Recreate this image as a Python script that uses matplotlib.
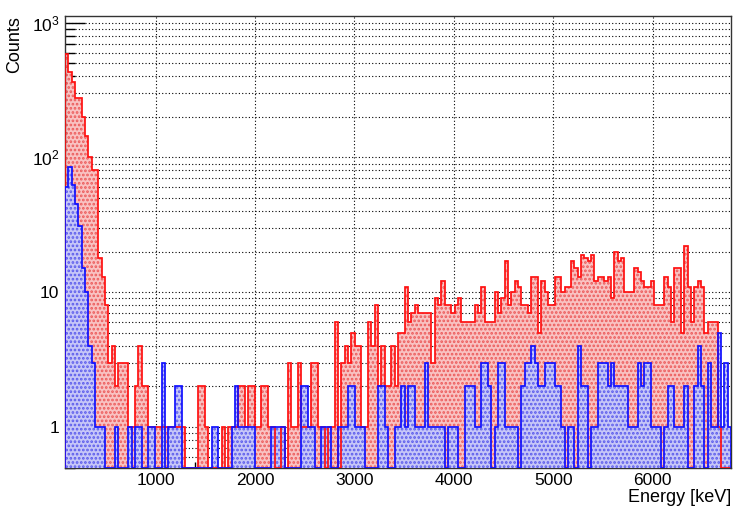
import numpy as np
import matplotlib
matplotlib.use("Agg")
import matplotlib.pyplot as plt
from matplotlib.ticker import FixedLocator, LogLocator, MultipleLocator, NullFormatter

# Energy spectrum, 200 bins of 33.5 keV starting at 88 keV
e_min = 88.0
bin_width = 33.5

red_counts = [
    590, 430, 360, 275, 275, 200, 145, 100, 80, 80, 18, 13, 8,
    3, 4, 2, 3, 3, 3, 1, 1, 2, 4,
    2, 2, 1, 1, 1, 1, 1, 1, 1, 1, 1, 1, 1,
    0, 0, 0, 0,
    2, 2, 1, 0, 0, 0, 0, 1, 0, 1, 1, 1, 2, 2, 1, 2,
    2, 1, 1, 2, 2, 1, 1, 0, 0, 1, 0,
    3, 1, 1, 3, 1, 1, 1, 3, 3, 1, 1, 0, 1, 1,
    6, 0, 3, 4, 3, 5, 4, 4, 1, 1, 6, 4, 8, 2, 4, 2, 2, 4, 2, 5,
    5, 11, 6, 7, 8, 7, 7, 7, 7, 3, 9, 8, 12, 8, 8, 7, 8, 9, 6, 6,
    6, 6, 8, 7,
    11, 6, 6, 6, 10, 7, 9, 17, 8, 10, 12, 11, 8, 8, 7, 13, 13, 5,
    12, 10, 8, 8, 13, 13, 10, 11, 11, 17, 15, 13, 19, 18, 17, 19, 12, 13, 13, 12,
    13, 9, 20, 17, 18, 10, 10,
    10, 15, 14, 12, 11, 11, 12, 8, 8, 8, 13, 11, 6, 15, 15, 5, 22, 11, 6, 11,
    12, 11, 5, 6, 6, 6, 1, 0, 0, 0,
]

blue_counts = [
    60, 85, 62, 45, 31, 15, 10, 4, 3, 1, 1, 1, 0, 0, 0, 1, 0, 0, 0, 1, 0, 1, 1,
    0, 0, 1, 1, 0, 0, 3, 0, 1, 1, 2, 2, 0, 0, 0, 0, 0, 0, 0, 0, 0, 1, 1, 0, 0, 0,
    0, 1, 2, 1, 1, 1, 1,
    1, 0, 0, 0, 0, 0, 1, 1, 1, 1, 0, 0, 0, 0, 0, 2, 2, 1, 1, 0,
    0, 1, 1, 1, 0, 0, 1, 1, 1, 2, 2, 1, 1, 1, 0, 0, 0, 0, 2, 2,
    1, 0, 0, 1, 1, 2, 1, 2, 2, 1, 1, 1, 3, 1, 1, 1, 1, 1, 0, 1,
    1, 1, 0, 0, 2, 2, 2, 1, 1,
    3, 3, 2, 0, 1, 3, 3, 1, 1, 1, 1, 0, 2, 3, 3, 4, 3,
    2, 2, 3, 3, 3, 2, 2, 1, 0, 1, 1, 0, 4, 2, 2, 0, 1, 1, 3, 3,
    3, 2, 3, 2, 2, 2, 2, 1,
    1, 1, 3, 2, 3, 3, 1, 1, 1, 0, 1, 2, 2, 1, 1, 1, 2, 0, 0, 2,
    4, 2, 0, 3, 1, 1, 5, 1, 3, 1,
]

y_min, y_max = 0.5, 1120.0
edges = e_min + bin_width * np.arange(len(red_counts) + 1)

plt.rcParams['font.family'] = ['Liberation Sans', 'DejaVu Sans']
plt.rcParams['mathtext.fontset'] = 'custom'
plt.rcParams['mathtext.rm'] = 'Liberation Sans'
plt.rcParams['mathtext.it'] = 'Liberation Sans'
plt.rcParams['hatch.linewidth'] = 1.3

fig = plt.figure(figsize=(7.33, 5.08), dpi=100)
ax = fig.add_axes([65 / 733, 40.5 / 508, 666 / 733, 451.5 / 508])
ax.set_yscale('log')

# empty bins sit on the bottom of the frame
red = np.clip(np.array(red_counts, dtype=float), y_min, None)
blue = np.clip(np.array(blue_counts, dtype=float), y_min, None)

ax.stairs(red, edges, baseline=y_min, fill=True, facecolor='#f9c2c2',
          edgecolor='#ec5a5a', linewidth=0, hatch='....', zorder=2)
ax.stairs(blue, edges, baseline=y_min, fill=True, facecolor='#c6c6f8',
          edgecolor='#5a5aec', linewidth=0, hatch='....', zorder=3)
ax.stairs(red, edges, baseline=y_min, color='#ff1010', linewidth=1.25, zorder=4)
ax.stairs(blue, edges, baseline=y_min, color='#1010ff', linewidth=1.25, zorder=5)

ax.set_xlim(edges[0], edges[-1])
ax.set_ylim(y_min, y_max)

ax.xaxis.set_major_locator(MultipleLocator(1000))
ax.xaxis.set_minor_locator(MultipleLocator(200))
ax.yaxis.set_major_locator(FixedLocator([1, 10, 100, 1000]))
ax.set_yticklabels(['1', '10', '$10^{2}$', '$10^{3}$'])
ax.yaxis.set_minor_locator(LogLocator(base=10, subs=np.arange(2, 10)))
ax.yaxis.set_minor_formatter(NullFormatter())

ax.tick_params(axis='both', which='both', direction='in', labelsize=12.5,
               colors='black', width=1.0, zorder=6)
ax.tick_params(axis='y', which='major', length=14.5, pad=4)
ax.tick_params(axis='y', which='minor', length=7)
ax.tick_params(axis='x', which='major', length=9, pad=4)
ax.tick_params(axis='x', which='minor', length=4.5)

grid_style = dict(color='black', linestyle=(0, (1, 2)), linewidth=0.8)
ax.grid(True, axis='x', which='major', **grid_style)
ax.grid(True, axis='y', which='both', **grid_style)
ax.set_axisbelow(True)

for side in ax.spines.values():
    side.set_linewidth(1.0)
    side.set_color('#333333')

ax.set_xlabel('Energy [keV]', fontsize=13, loc='right', labelpad=1)
ax.set_ylabel('Counts', fontsize=13, loc='top', labelpad=6)

fig.savefig('out.png', dpi=100)
